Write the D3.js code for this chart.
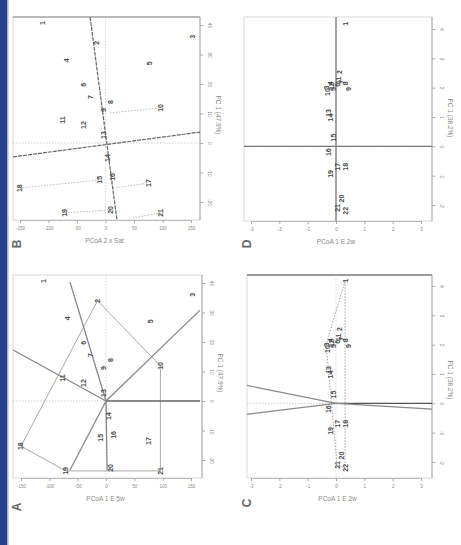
<!DOCTYPE html>
<html>
<head>
<meta charset="utf-8">
<script src="https://cdn.jsdelivr.net/npm/d3@7/dist/d3.min.js"></script>
<style>
  html, body { margin: 0; padding: 0; background: #fff; }
  svg { display: block; }
  text { font-family: "Liberation Sans", "DejaVu Sans", sans-serif; }
</style>
</head>
<body>
<svg id="fig" width="461" height="545"></svg>
<script>
// ---- sample scores, ordination of 5-week data (panels A and B)
const ordIds = ["1","2","3","4","5","6","7","8","9","10","11","12","13","14","15","16","17","18","19","20","21"];
const ordX = [-110, -15, 152, -68, 78, -39, -27, 8, -4, 96, -76, -39, -4, 4, -10, 13, 75, -150, -71, 8, 96];
const ordY = [40.7, 34, 36, 28, 27, 19.7, 15.6, 13.9, 11.2, 11.9, 7.8, 6.1, 2.7, -5.1, -12.5, -11.5, -13.6, -15.3, -23.7, -22.7, -23.7];

// ---- sample scores, ordination of 2-week data (panels C and D)
const clIds = ["1","2","3","4","5","6","7","8","9","10","11","12","13","14","15","16","17","18","19","20","21","22"];
const clX = [0.32, 0.14, -0.35, -0.2, -0.1, 0.05, 0.2, 0.35, 0.45, -0.3, 0.1, -0.15, -0.28, -0.21, -0.1, -0.28, 0.04, 0.32, -0.21, 0.21, 0.04, 0.32];
const clY = [4.18, 2.53, 2.0, 2.15, 1.95, 2.1, 2.2, 2.15, 1.95, 1.85, 2.25, 2.05, 1.14, 0.98, 0.3, -0.2, -0.7, -0.7, -0.94, -1.78, -2.1, -2.2];

// ---- tick labels
const ordXTicks = [-150, -100, -50, 0, 50, 100, 150];
const ordYTicks = [40, 30, 20, 10, 0, -10, -20];
const clXTicks = [-3, -2, -1, 0, 1, 2, 3];
const clYTicks = [4, 3, 2, 1, 0, -1, -2];

// ---- panel A: rays from the origin and the enclosing polygon (by sample index)
const aRayX = [166, 166, -164, -63.5, -63.5, 2];
const aRayY = [30.8, 0, 17.3, 40.3, -23.4, -23.4];
const aHull = [1, 9, 20, 18, 17];

// ---- panel B: rotated axes and dotted projection segments
const bAxisX1 = [-27, -162];
const bAxisY1 = [42.7, -4.7];
const bAxisX2 = [20, 166];
const bAxisY2 = [-26, 3.7];
const bSegX1 = [8, -150, 13, -71, 48];
const bSegY1 = [10.2, -15.3, -15.3, -23.7, -25.4];
const bSegX2 = [96, -10, 75, 8, 96];
const bSegY2 = [11.9, -12.5, -13.6, -22.7, -23.7];

// ---- panel C: rays from the origin and dotted envelope (by sample index)
const cRayX = [-3.14, -3.14, 3.39, 3.39];
const cRayY = [0.61, -0.375, 0, -0.2];
const cHull = [0, 2, 20, 21];

const svg = d3.select("#fig");

// left page border strip
svg.append("rect").attr("x", 0).attr("y", 0).attr("width", 7).attr("height", 545).attr("fill", "#22408c");
svg.append("rect").attr("x", 7).attr("y", 0).attr("width", 1.5).attr("height", 545).attr("fill", "#9fb0d6");

function panel(cfg) {
  const g = svg.append("g");
  const x = d3.scaleLinear().domain([cfg.xTicks[0], cfg.xTicks[6]]).range(cfg.xr);
  const y = d3.scaleLinear().domain([cfg.yTicks[0], cfg.yTicks[6]]).range(cfg.yr);
  const [fl, fr] = cfg.fx, [ft, fb] = cfg.fy;

  // frame
  g.append("rect").attr("x", fl).attr("y", ft).attr("width", fr - fl).attr("height", fb - ft)
    .attr("fill", "none").attr("stroke", "#cfcfcf").attr("stroke-width", 0.8);
  if (cfg.topStroke) {
    g.append("line").attr("x1", fl).attr("x2", fr).attr("y1", ft).attr("y2", ft)
      .attr("stroke", cfg.topStroke[0]).attr("stroke-width", cfg.topStroke[1]);
  }
  g.append("line").attr("x1", fr).attr("x2", fr).attr("y1", ft).attr("y2", fb)
    .attr("stroke", "#aaa").attr("stroke-width", 1);

  // bottom axis
  const bx = g.append("g").attr("transform", `translate(0,${fb})`)
    .call(d3.axisBottom(x).tickValues(cfg.xTicks).tickSize(3).tickSizeOuter(0).tickFormat(d => d));
  bx.select(".domain").attr("stroke", "#bbb");
  bx.selectAll(".tick line").attr("stroke", "#aaa");
  bx.selectAll(".tick text").attr("font-size", 4.5).attr("fill", "#888").attr("dy", "0.9em");

  // right axis, labels turned to run along the axis
  const ry = g.append("g").attr("transform", `translate(${fr},0)`)
    .call(d3.axisRight(y).tickValues(cfg.yTicks).tickSize(3).tickSizeOuter(0).tickFormat(d => d));
  ry.select(".domain").remove();
  ry.selectAll(".tick line").attr("stroke", "#aaa");
  ry.selectAll(".tick text").attr("font-size", 5).attr("fill", "#888")
    .attr("x", 0).attr("dy", 0).attr("text-anchor", "middle")
    .attr("transform", "translate(8,0) rotate(90)");

  // titles
  g.append("text").attr("x", (fl + fr) / 2 - 2).attr("y", fb + 23).attr("text-anchor", "middle")
    .attr("font-size", 6.5).attr("fill", "#888").text(cfg.xTitle);
  g.append("text").attr("transform", `translate(${fr + 16},${cfg.yTitleY}) rotate(90)`)
    .attr("text-anchor", "middle").attr("font-size", 6.5).attr("fill", "#888").text(cfg.yTitle);
  g.append("text").attr("transform", `translate(${cfg.letter[0]},${cfg.letter[1]}) rotate(-90)`)
    .attr("text-anchor", "middle").attr("dy", "0.35em").attr("font-size", 12).attr("font-weight", "bold")
    .attr("fill", "#666").text(cfg.letterText);

  // zero reference lines
  g.append("line").attr("x1", fl).attr("x2", fr).attr("y1", y(0)).attr("y2", y(0))
    .attr("stroke", "#bbb").attr("stroke-width", 0.7).attr("stroke-dasharray", "1.5,1.5");
  g.append("line").attr("x1", x(0)).attr("x2", x(0)).attr("y1", ft).attr("y2", fb)
    .attr("stroke", "#ccc").attr("stroke-width", 0.7).attr("stroke-dasharray", "1.5,1.5");

  cfg.draw(g, x, y);

  // sample labels
  g.selectAll("text.pt").data(cfg.ids).join("text").attr("class", "pt")
    .attr("transform", (d, i) => `translate(${x(cfg.px[i])},${y(cfg.py[i])}) rotate(-90)`)
    .attr("text-anchor", "middle").attr("dy", "0.35em")
    .attr("font-size", 7).attr("font-weight", "bold").attr("fill", "#4a4a4a").text(d => d);
}

// B: rotated axes and projections
panel({
  xr: [20, 191], yr: [25, 202], fx: [13, 200], fy: [17, 220],
  xTicks: ordXTicks, yTicks: ordYTicks, ids: ordIds, px: ordX, py: ordY,
  xTitle: "PCoA 2 x Sat", yTitle: "PC 1 (47.9%)", yTitleY: 115,
  letter: [17, 244], letterText: "B", topStroke: ["#888", 1],
  draw(g, x, y) {
    g.selectAll("line.seg").data(bSegX1).join("line").attr("class", "seg")
      .attr("x1", (d, i) => x(bSegX1[i])).attr("y1", (d, i) => y(bSegY1[i]))
      .attr("x2", (d, i) => x(bSegX2[i])).attr("y2", (d, i) => y(bSegY2[i]))
      .attr("stroke", "#aaa").attr("stroke-width", 0.8).attr("stroke-dasharray", "1.5,1.5");
    g.selectAll("line.ax").data(bAxisX1).join("line").attr("class", "ax")
      .attr("x1", (d, i) => x(bAxisX1[i])).attr("y1", (d, i) => y(bAxisY1[i]))
      .attr("x2", (d, i) => x(bAxisX2[i])).attr("y2", (d, i) => y(bAxisY2[i]))
      .attr("stroke", "#666").attr("stroke-width", 1.2).attr("stroke-dasharray", "4,1");
  }
});

// D: plain ordination with crossing axes
panel({
  xr: [251, 421], yr: [29, 205], fx: [244, 432], fy: [17, 221],
  xTicks: clXTicks, yTicks: clYTicks, ids: clIds, px: clX, py: clY,
  xTitle: "PCoA 1 E 2w", yTitle: "PC 1 (38.2%)", yTitleY: 118,
  letter: [247, 244], letterText: "D",
  draw(g, x, y) {
    g.append("line").attr("x1", 244).attr("x2", 432).attr("y1", y(0)).attr("y2", y(0))
      .attr("stroke", "#777").attr("stroke-width", 1.3);
    g.append("line").attr("x1", x(0)).attr("x2", x(0)).attr("y1", 17).attr("y2", 221)
      .attr("stroke", "#777").attr("stroke-width", 1.3);
  }
});

// A: rays and enclosing polygon
panel({
  xr: [21, 191], yr: [283, 460], fx: [13, 202], fy: [275, 478],
  xTicks: ordXTicks, yTicks: ordYTicks, ids: ordIds, px: ordX, py: ordY,
  xTitle: "PCoA 1 E 5w", yTitle: "PC 1 (47.9%)", yTitleY: 373,
  letter: [17, 507], letterText: "A",
  draw(g, x, y) {
    const hull = aHull.map(i => [x(ordX[i]), y(ordY[i])]);
    g.append("path").attr("d", "M" + hull.join("L") + "Z")
      .attr("fill", "none").attr("stroke", "#aaa").attr("stroke-width", 1);
    g.selectAll("line.ray").data(aRayX).join("line").attr("class", "ray")
      .attr("x1", x(0)).attr("y1", y(0))
      .attr("x2", (d, i) => x(aRayX[i])).attr("y2", (d, i) => y(aRayY[i]))
      .attr("stroke", (d, i) => i === 1 ? "#666" : "#888").attr("stroke-width", 1.3);
  }
});

// C: rays and dotted envelope
panel({
  xr: [251, 421], yr: [286, 462], fx: [247, 432], fy: [275, 478],
  xTicks: clXTicks, yTicks: clYTicks, ids: clIds, px: clX, py: clY,
  xTitle: "PCoA 1 E 2w", yTitle: "PC 1 (38.2%)", yTitleY: 380,
  letter: [247, 503], letterText: "C", topStroke: ["#999", 2],
  draw(g, x, y) {
    const hull = cHull.map(i => [x(clX[i]), y(clY[i])]);
    g.append("path").attr("d", "M" + hull.join("L") + "Z")
      .attr("fill", "none").attr("stroke", "#999").attr("stroke-width", 0.9).attr("stroke-dasharray", "1.5,1.5");
    g.selectAll("line.ray").data(cRayX).join("line").attr("class", "ray")
      .attr("x1", x(0)).attr("y1", y(0))
      .attr("x2", (d, i) => x(cRayX[i])).attr("y2", (d, i) => y(cRayY[i]))
      .attr("stroke", (d, i) => i === 2 ? "#555" : "#888").attr("stroke-width", 1.2);
  }
});
</script>
</body>
</html>
